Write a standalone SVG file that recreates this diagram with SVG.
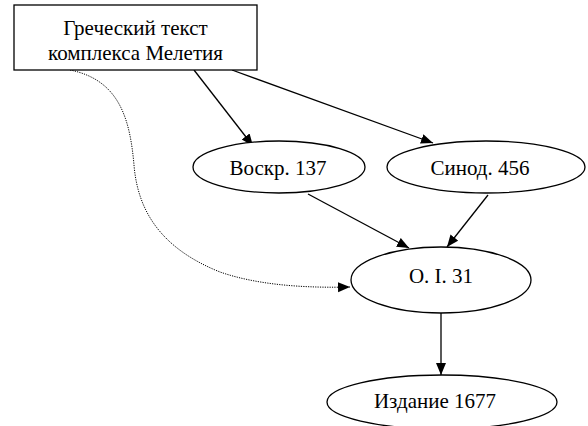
<svg xmlns="http://www.w3.org/2000/svg" width="588" height="426" viewBox="0 0 588 426">
<defs>
<marker id="arr" markerUnits="userSpaceOnUse" markerWidth="13" markerHeight="11" refX="12" refY="5" orient="auto" viewBox="0 0 13 11">
<path d="M0,0 L12,5 L0,10 z" fill="#000"/>
</marker>
<style>
.n{fill:#fff;stroke:#000;stroke-width:1.3}
.t{font-family:'Liberation Serif','Times New Roman',serif;font-size:21px;fill:#000;text-anchor:middle}
.e{fill:none;stroke:#000;stroke-width:1.3;marker-end:url(#arr)}
.d{fill:none;stroke:#000;stroke-width:1;stroke-dasharray:1.2 1.2;marker-end:url(#arr)}
</style>
</defs>
<rect width="588" height="426" fill="#fff"/>
<g id="connectors">
<line class="e" x1="194" y1="70" x2="253" y2="146"/>
<line class="e" x1="232" y1="70" x2="433" y2="143"/>
<line class="e" x1="308" y1="194" x2="409" y2="248"/>
<line class="e" x1="488" y1="195" x2="447" y2="247"/>
<line class="e" x1="441" y1="313" x2="441" y2="375"/>
<path class="d" d="M70,70 C120,80 130,120 134,165 C138,215 165,250 220,272 C260,286 310,288 350,287"/>
</g>
<g id="greek">
<rect class="n" x="14" y="5" width="243" height="65"/>
<text class="t" x="135.5" y="35">Греческий текст</text>
<text class="t" x="135.5" y="60">комплекса Мелетия</text>
</g>
<g id="voskr">
<ellipse class="n" cx="279" cy="167" rx="86" ry="26"/>
<text class="t" x="278" y="175">Воскр. 137</text>
</g>
<g id="sinod">
<ellipse class="n" cx="486" cy="167" rx="99" ry="26"/>
<text class="t" x="480" y="175">Синод. 456</text>
</g>
<g id="oi31">
<ellipse class="n" cx="441" cy="280" rx="90" ry="33"/>
<text class="t" x="441" y="283">О. I. 31</text>
</g>
<g id="izdanie">
<ellipse class="n" cx="442" cy="402" rx="115" ry="27"/>
<text class="t" x="435" y="408">Издание 1677</text>
</g>
</svg>
